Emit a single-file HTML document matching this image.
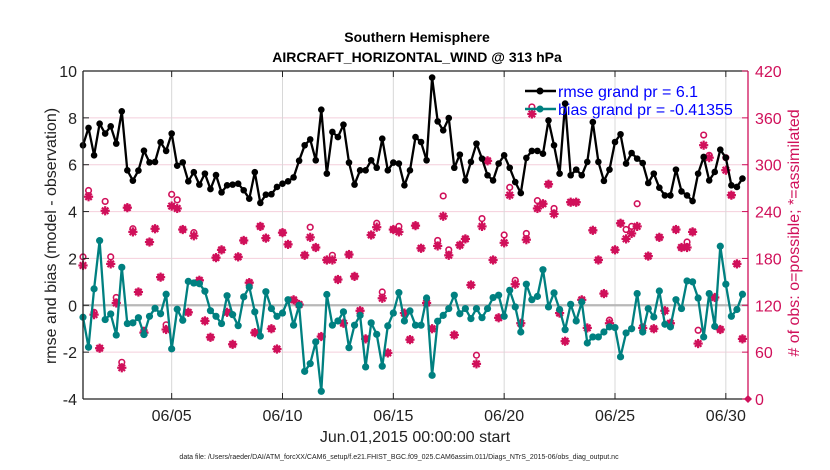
<!DOCTYPE html>
<html><head><meta charset="utf-8"><style>
html,body{margin:0;padding:0;background:#fff;}
svg{display:block;font-family:"Liberation Sans",Arial,sans-serif;}
</style></head><body>
<svg id="chart" width="830" height="470" viewBox="0 0 830 470">
<text x="417" y="42" text-anchor="middle" font-size="14" font-weight="bold">Southern Hemisphere</text>
<text x="417" y="62" text-anchor="middle" font-size="14" font-weight="bold">AIRCRAFT_HORIZONTAL_WIND @ 313 hPa</text>
<g id="grid"></g>
<g id="series"></g>
<g id="axes"></g>
<text transform="translate(56,236) rotate(-90)" text-anchor="middle" font-size="16" fill="#222">rmse and bias (model - observation)</text>
<text transform="translate(799,233) rotate(-90)" text-anchor="middle" font-size="16" fill="#d0105a"># of obs: o=possible; *=assimilated</text>
<text x="415" y="442" text-anchor="middle" font-size="16" fill="#222">Jun.01,2015 00:00:00 start</text>
<text x="399" y="459" text-anchor="middle" font-size="7" fill="#222">data file: /Users/raeder/DAI/ATM_forcXX/CAM6_setup/f.e21.FHIST_BGC.f09_025.CAM6assim.011/Diags_NTrS_2015-06/obs_diag_output.nc</text>
<g>
<line x1="525" y1="91" x2="556" y2="91" stroke="#000" stroke-width="2.5"/>
<circle cx="540" cy="91" r="3.5" fill="#000"/>
<text x="558" y="97" font-size="16" fill="#0000ff">rmse grand pr = 6.1</text>
<line x1="525" y1="109" x2="556" y2="109" stroke="#008080" stroke-width="2.5"/>
<circle cx="540" cy="109" r="3.5" fill="#008080"/>
<text x="558" y="115" font-size="16" fill="#0000ff">bias grand pr = -0.41355</text>
</g>
</svg>
<script>
const rmse=[6.83,7.57,6.4,7.75,7.33,7.64,6.9,8.28,5.76,5.32,5.75,6.6,6.1,6.12,6.96,6.59,7.33,5.96,6.1,5.29,5.68,
5.15,5.62,4.96,5.56,4.82,5.12,5.15,5.19,4.91,4.55,5.68,4.37,4.72,4.74,5.05,5.19,5.29,5.46,6.17,6.83,
7.08,6.19,8.35,5.62,7.4,7.18,7.71,6.09,5.15,5.76,5.76,6.19,5.87,7.11,5.76,6.09,6.05,5.12,5.76,7.18,6.97,6.19,9.72,7.85,7.47,7.99,5.87,6.43,5.33,6.12,6.9,6.26,5.55,5.33,6.05,6.4,5.87,5.26,4.79,
6.29,6.59,6.59,6.47,7.89,6.83,5.62,8.61,5.55,5.79,5.55,6.12,7.82,6.12,5.31,5.79,6.97,7.3,6.05,6.5,6.26,6.07,5.22,5.62,5.02,4.69,4.69,5.79,4.86,4.69,4.45,5.62,6.33,5.33,5.69,6.64,6.3,5.12,5.05,5.41];
const bias=[-0.51,-1.79,0.7,2.76,-0.61,-0.37,-1.27,1.62,-0.78,-0.75,-0.53,-1.25,-0.47,-0.13,-0.36,0.47,-1.86,-0.17,-0.64,1.02,0.95,
0.92,0.6,-0.23,-0.47,-0.78,0.41,-0.4,-0.87,0.36,0.78,-0.28,-1.32,0.58,-0.14,-0.47,-0.33,0.24,-0.85,0.0,-2.82,
-2.49,-1.56,-3.67,0.46,-0.85,-0.67,-0.28,-1.81,-0.85,-0.43,-2.63,-0.75,-1.24,-2.6,-0.88,-0.33,0.54,-0.67,-0.24,-0.85,-0.85,0.31,-2.99,-0.68,-0.43,-0.14,0.43,-0.36,-0.14,-0.57,-0.14,-0.53,-0.14,0.33,0.43,-0.47,0.64,-0.07,-1.14,
0.9,0.24,0.38,1.52,-0.07,0.53,-0.18,-1.04,0.04,-0.67,0.14,-1.61,-1.35,-1.35,-1.14,-0.92,-0.95,-2.2,-1.18,-1.0,0.5,-1.14,-0.14,-0.5,0.61,-0.81,-0.92,0.24,-0.14,1.04,1.0,0.31,-1.35,0.5,-0.9,2.52,0.9,-0.47,-0.18,0.47];
const nAssim=[171,259,108,65,241,173,123,40,245,214,137,85,201,218,156,89,247,244,217,111,209,
152,100,79,181,191,111,70,182,203,149,85,221,206,90,64,213,198,127,121,184,
207,194,80,178,178,153,97,185,157,113,77,210,220,129,59,217,214,110,76,222,193,123,90,196,234,184,82,197,205,146,45,221,305,178,104,200,261,147,97,
204,365,244,250,275,237,110,74,252,252,127,91,216,178,135,97,191,225,205,212,221,91,183,90,207,113,97,217,194,194,214,71,325,309,130,89,293,261,173,77];
const nPoss=[182,267,111,65,253,182,130,47,245,218,137,88,201,218,156,95,262,255,217,111,213,
152,100,79,181,191,111,70,182,203,149,85,221,206,90,64,213,198,127,121,184,
220,194,80,178,184,153,97,185,157,113,77,210,225,137,59,217,221,110,76,222,193,123,90,203,260,191,82,197,205,146,56,231,305,178,104,210,271,152,97,
212,374,254,250,275,244,110,74,252,252,127,91,216,178,135,101,191,225,217,221,250,91,183,90,207,113,97,217,194,201,214,88,338,312,130,89,309,261,173,77];
const leftTicks=[-4,-2,0,2,4,6,8,10];
const rightTicks=[0,60,120,180,240,300,360,420];
const dateTicks=[4,9,14,19,24,29];
const dateLabels=["06/05","06/10","06/15","06/20","06/25","06/30"];

const NS="http://www.w3.org/2000/svg";
const X0=83,X1=748,Y0=399,Y1=71,DAYS=30;
const xs=d=>X0+d*(X1-X0)/DAYS;
const yL=v=>Y0-(v+4)*(Y0-Y1)/14;
const yR=n=>Y0-n*(Y0-Y1)/420;
const tday=i=>i/4;
function mk(tag,attrs,parent){const e=document.createElementNS(NS,tag);for(const k in attrs)e.setAttribute(k,attrs[k]);parent.appendChild(e);return e;}
const grid=document.getElementById('grid'),ser=document.getElementById('series'),ax=document.getElementById('axes');
const PINK="#d0105a";

leftTicks.forEach(v=>{
  if(v>-4&&v<10&&v!==0){const l=mk('line',{x1:X0,x2:X1,y1:yL(v),y2:yL(v),stroke:'#f4cfdc','stroke-width':1},grid);
  
  }
});
dateTicks.forEach(d=>{
  const l=mk('line',{x1:xs(d),x2:xs(d),y1:Y1,y2:Y0,stroke:'#d8d8d8','stroke-width':1},grid);
  
  
});
const zl=mk('line',{x1:X0,x2:X1,y1:yL(0),y2:yL(0),stroke:'#b8b8b8','stroke-width':2.2},grid);



function star(cx,cy,r,p){
  const g=mk('g',{stroke:PINK,'stroke-width':2.2},p);
  [[0,1],[1,0],[0.7,0.7],[0.7,-0.7]].forEach(([a,b])=>mk('line',{x1:cx-a*r,y1:cy-b*r,x2:cx+a*r,y2:cy+b*r},g));
  mk('circle',{cx:cx,cy:cy,r:2.2,fill:PINK,stroke:'none'},g);
  return g;
}
nPoss.forEach((n,i)=>{
  const c=mk('circle',{cx:xs(tday(i)),cy:yR(n),r:2.8,fill:'#fff',stroke:PINK,'stroke-width':1.6},ser);
  
  
});
nAssim.forEach((n,i)=>{
  const g=star(xs(tday(i)),yR(n),4.6,ser);
  
  
});

function line(arr,color,r,name){
  const pts=arr.map((v,i)=>xs(tday(i)).toFixed(1)+','+yL(v).toFixed(1)).join(' ');
  const pl=mk('polyline',{points:pts,fill:'none',stroke:color,'stroke-width':2.3,'stroke-linejoin':'round'},ser);
  
  
  arr.forEach((v,i)=>{
    const c=mk('circle',{cx:xs(tday(i)),cy:yL(v),r:r,fill:color},ser);
    
    
  });
}
line(rmse,'#000',3.3,'rmse');
line(bias,'#008080',3.6,'bias');

const box=[[X0,Y1,X1,Y1,'#222'],[X0,Y0,X1,Y0,'#222'],[X0,Y1,X0,Y0,'#222'],[X1,Y1,X1,Y0,PINK]];
box.forEach(b=>{const l=mk('line',{x1:b[0],y1:b[1],x2:b[2],y2:b[3],stroke:b[4],'stroke-width':1.3},ax);
  
  });
leftTicks.forEach(v=>{
  mk('line',{x1:X0,x2:X0+6,y1:yL(v),y2:yL(v),stroke:'#222'},ax);
  const t=mk('text',{x:X0-6,y:yL(v)+6,'text-anchor':'end','font-size':16,fill:'#222'},ax);
  t.textContent=String(v);
  
  
});
rightTicks.forEach(n=>{
  mk('line',{x1:X1-6,x2:X1,y1:yR(n),y2:yR(n),stroke:PINK},ax);
  const t=mk('text',{x:X1+7,y:yR(n)+6,'font-size':16,fill:PINK},ax);
  t.textContent=String(n);
  
  
});
dateTicks.forEach((d,k)=>{
  mk('line',{x1:xs(d),x2:xs(d),y1:Y0,y2:Y0-6,stroke:'#222'},ax);
  mk('line',{x1:xs(d),x2:xs(d),y1:Y1,y2:Y1+6,stroke:'#222'},ax);
  const t=mk('text',{x:xs(d),y:Y0+22,'text-anchor':'middle','font-size':16,fill:'#222'},ax);
  t.textContent=dateLabels[k];
  
  
});
const dm=mk('path',{d:`M${X1-4},${Y0} L${X1},${Y0-4} L${X1+4},${Y0} L${X1},${Y0+4} Z`,fill:PINK},ax);


</script>
</body></html>
